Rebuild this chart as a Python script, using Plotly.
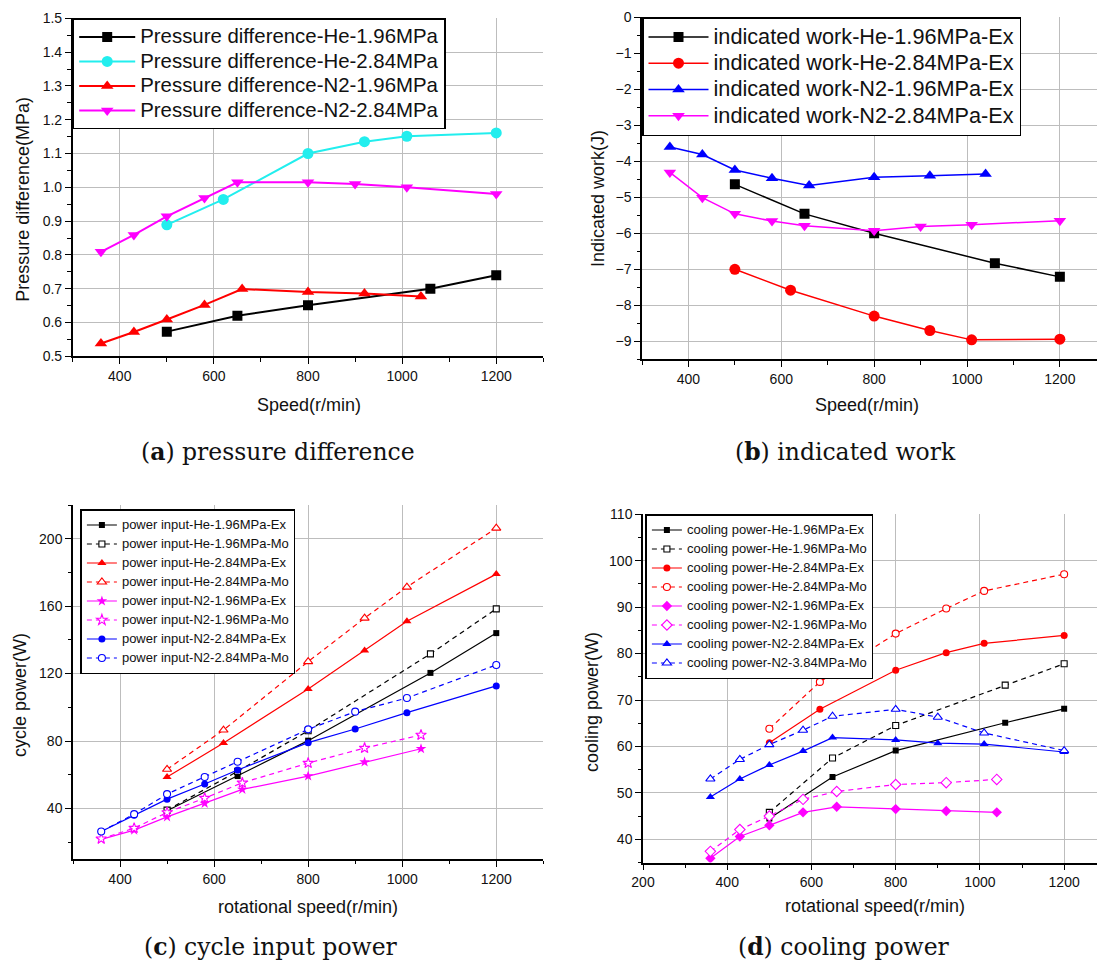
import plotly.graph_objects as go

W, H = 1097, 964

# ---------------- Panel (a) pressure difference ----------------
a_he196_x = [500, 650, 800, 1060, 1200]
a_he196_y = [0.573, 0.620, 0.651, 0.700, 0.740]
a_he284_x = [500, 620, 800, 920, 1010, 1200]
a_he284_y = [0.889, 0.964, 1.100, 1.135, 1.151, 1.161]
a_n2196_x = [360, 430, 500, 580, 660, 800, 920, 1040]
a_n2196_y = [0.538, 0.572, 0.609, 0.652, 0.699, 0.690, 0.686, 0.677]
a_n2284_x = [360, 430, 500, 580, 650, 800, 900, 1010, 1200]
a_n2284_y = [0.809, 0.859, 0.914, 0.968, 1.015, 1.015, 1.010, 1.000, 0.980]

# ---------------- Panel (b) indicated work ----------------
b_he196_x = [500, 650, 800, 1060, 1200]
b_he196_y = [-4.64, -5.46, -6.00, -6.83, -7.21]
b_he284_x = [500, 620, 800, 920, 1010, 1200]
b_he284_y = [-7.00, -7.58, -8.30, -8.70, -8.96, -8.94]
b_n2196_x = [360, 430, 500, 580, 660, 800, 920, 1040]
b_n2196_y = [-3.60, -3.81, -4.24, -4.47, -4.67, -4.44, -4.40, -4.35]
b_n2284_x = [360, 430, 500, 580, 650, 800, 900, 1010, 1200]
b_n2284_y = [-4.31, -5.01, -5.46, -5.66, -5.79, -5.93, -5.81, -5.76, -5.65]

# ---------------- Panel (c) cycle input power ----------------
c_x_he196 = [500, 650, 800, 1060, 1200]
c_he196_ex = [38.6, 59.2, 80.2, 120.4, 144.0]
c_he196_mo = [39.0, 62.0, 86.1, 131.7, 158.4]
c_x_he284 = [500, 620, 800, 920, 1010, 1200]
c_he284_ex = [58.6, 78.8, 110.9, 133.7, 151.1, 179.0]
c_he284_mo = [63.2, 86.5, 127.1, 152.9, 171.3, 206.3]
c_x_n2196 = [360, 430, 500, 580, 660, 800, 920, 1040]
c_n2196_ex = [21.6, 27.1, 35.0, 43.0, 51.3, 59.2, 67.5, 75.4]
c_n2196_mo = [22.0, 28.3, 37.6, 46.1, 55.2, 66.9, 75.8, 83.6]
c_x_n2284 = [360, 430, 500, 580, 650, 800, 900, 1010, 1200]
c_n2284_ex = [26.3, 36.0, 45.5, 54.5, 62.8, 79.0, 87.1, 96.8, 112.7]
c_n2284_mo = [26.3, 36.6, 48.5, 58.6, 67.7, 86.9, 97.4, 105.5, 125.1]

# ---------------- Panel (d) cooling power ----------------
d_x_he196 = [500, 650, 800, 1060, 1200]
d_he196_ex = [44.5, 53.4, 59.1, 65.1, 68.1]
d_he196_mo = [45.8, 57.5, 64.5, 73.2, 77.8]
d_x_he284 = [500, 620, 800, 920, 1010, 1200]
d_he284_ex = [60.8, 68.0, 76.4, 80.2, 82.2, 83.9]
d_he284_mo = [63.8, 73.9, 84.3, 89.7, 93.5, 97.1]
d_x_n2196 = [360, 430, 500, 580, 660, 800, 920, 1040]
d_n2196_ex = [35.9, 40.6, 43.0, 45.8, 47.0, 46.5, 46.1, 45.8]
d_n2196_mo = [37.4, 42.1, 45.0, 48.6, 50.3, 51.8, 52.2, 52.9]
d_x_n2284 = [360, 430, 500, 580, 650, 800, 900, 1010, 1200]
d_n2284_ex = [49.1, 53.0, 56.0, 59.0, 61.9, 61.4, 60.7, 60.5, 58.8]
d_n2384_mo = [53.0, 57.2, 60.4, 63.5, 66.5, 68.0, 66.3, 62.9, 59.1]

SANS = "Liberation Sans, Arial, sans-serif"
SERIF = "DejaVu Serif, serif"
BLACK, RED, BLUE, MAG, CYAN = "#000000", "#ff0000", "#0000ff", "#ff00ff", "#22eeee"
DASH = "5px,4px"

fig = go.Figure()


def nm(text, size):
    return f'<span style="font-size:{size}px">{text}</span>'


def add(x, y, name, color, symbol, size, lw, xa, ya, legend, fsize,
        dash="solid", open_=False):
    marker = dict(symbol=symbol, size=size, color=color,
                  line=dict(width=0, color=color))
    if open_:
        marker = dict(symbol=symbol, size=size, color="white",
                      line=dict(width=1.1, color=color))
    fig.add_trace(go.Scatter(
        x=x, y=y, name=nm(name, fsize), mode="lines+markers",
        line=dict(color=color, width=lw, dash=dash), marker=marker,
        xaxis=xa, yaxis=ya, legend=legend, hoverinfo="skip"))


# (a)
fa = 20.4
add(a_he196_x, a_he196_y, "Pressure difference-He-1.96MPa", BLACK, "square", 10, 2, "x", "y", "legend", fa)
add(a_he284_x, a_he284_y, "Pressure difference-He-2.84MPa", CYAN, "circle", 11, 2, "x", "y", "legend", fa)
add(a_n2196_x, a_n2196_y, "Pressure difference-N2-1.96MPa", RED, "triangle-up", 11, 2, "x", "y", "legend", fa)
add(a_n2284_x, a_n2284_y, "Pressure difference-N2-2.84MPa", MAG, "triangle-down", 11, 2, "x", "y", "legend", fa)

# (b)
fb = 21.7
add(b_he196_x, b_he196_y, "indicated work-He-1.96MPa-Ex", BLACK, "square", 10, 1.5, "x2", "y2", "legend2", fb)
add(b_he284_x, b_he284_y, "indicated work-He-2.84MPa-Ex", RED, "circle", 11, 1.5, "x2", "y2", "legend2", fb)
add(b_n2196_x, b_n2196_y, "indicated work-N2-1.96MPa-Ex", BLUE, "triangle-up", 11, 1.5, "x2", "y2", "legend2", fb)
add(b_n2284_x, b_n2284_y, "indicated work-N2-2.84MPa-Ex", MAG, "triangle-down", 11, 1.5, "x2", "y2", "legend2", fb)

# (c)
fc = 13
add(c_x_he196, c_he196_ex, "power input-He-1.96MPa-Ex", BLACK, "square", 6, 1.2, "x3", "y3", "legend3", fc)
add(c_x_he196, c_he196_mo, "power input-He-1.96MPa-Mo", BLACK, "square", 6, 1.2, "x3", "y3", "legend3", fc, DASH, True)
add(c_x_he284, c_he284_ex, "power input-He-2.84MPa-Ex", RED, "triangle-up", 8, 1.2, "x3", "y3", "legend3", fc)
add(c_x_he284, c_he284_mo, "power input-He-2.84MPa-Mo", RED, "triangle-up", 8, 1.2, "x3", "y3", "legend3", fc, DASH, True)
add(c_x_n2196, c_n2196_ex, "power input-N2-1.96MPa-Ex", MAG, "star", 8, 1.2, "x3", "y3", "legend3", fc)
add(c_x_n2196, c_n2196_mo, "power input-N2-1.96MPa-Mo", MAG, "star", 8, 1.2, "x3", "y3", "legend3", fc, DASH, True)
add(c_x_n2284, c_n2284_ex, "power input-N2-2.84MPa-Ex", BLUE, "circle", 7, 1.2, "x3", "y3", "legend3", fc)
add(c_x_n2284, c_n2284_mo, "power input-N2-2.84MPa-Mo", BLUE, "circle", 7, 1.2, "x3", "y3", "legend3", fc, DASH, True)

# (d)
fd = 13
add(d_x_he196, d_he196_ex, "cooling power-He-1.96MPa-Ex", BLACK, "square", 6, 1.2, "x4", "y4", "legend4", fd)
add(d_x_he196, d_he196_mo, "cooling power-He-1.96MPa-Mo", BLACK, "square", 6, 1.2, "x4", "y4", "legend4", fd, DASH, True)
add(d_x_he284, d_he284_ex, "cooling power-He-2.84MPa-Ex", RED, "circle", 7, 1.2, "x4", "y4", "legend4", fd)
add(d_x_he284, d_he284_mo, "cooling power-He-2.84MPa-Mo", RED, "circle", 7, 1.2, "x4", "y4", "legend4", fd, DASH, True)
add(d_x_n2196, d_n2196_ex, "cooling power-N2-1.96MPa-Ex", MAG, "diamond", 8, 1.2, "x4", "y4", "legend4", fd)
add(d_x_n2196, d_n2196_mo, "cooling power-N2-1.96MPa-Mo", MAG, "diamond", 8, 1.2, "x4", "y4", "legend4", fd, DASH, True)
add(d_x_n2284, d_n2284_ex, "cooling power-N2-2.84MPa-Ex", BLUE, "triangle-up", 8, 1.2, "x4", "y4", "legend4", fd)
add(d_x_n2284, d_n2384_mo, "cooling power-N2-3.84MPa-Mo", BLUE, "triangle-up", 8, 1.2, "x4", "y4", "legend4", fd, DASH, True)


def px_x(p):
    return p / W


def px_y(p):
    return 1 - p / H


def axis(rng, x0, x1, dtick, minor, tick0=0, fmt=None):
    d = dict(
        range=rng, autorange=False, showline=True, linecolor="black", linewidth=1.5,
        ticks="outside", ticklen=6, tickwidth=1.3, tickcolor="black",
        dtick=dtick, tick0=tick0, showgrid=True, gridcolor="#bdbdbd", gridwidth=1.4,
        zeroline=False, tickfont=dict(family=SANS, size=14, color="#111111"),
        minor=dict(dtick=minor, tick0=tick0, ticks="outside", ticklen=3.5,
                   tickwidth=1.2, tickcolor="black", showgrid=False),
        domain=[x0, x1], fixedrange=True, layer="below traces")
    if fmt:
        d["tickformat"] = fmt
    return d


layout = dict(
    width=W, height=H, margin=dict(l=0, r=0, t=0, b=0),
    paper_bgcolor="white", plot_bgcolor="white", template="none",
    showlegend=True,
    xaxis=axis([300, 1300], px_x(72.7), px_x(543.3), 200, 100, 0),
    yaxis=axis([0.5, 1.5], px_y(356.3), px_y(18.3), 0.1, 0.05, 0.5, ".1f"),
    xaxis2=axis([300, 1280], px_x(642), 1.0, 200, 100, 0),
    yaxis2=axis([-9.5, 0], px_y(359.3), px_y(17.3), 1, 0.5, 0),
    xaxis3=axis([300, 1300], px_x(73), px_x(543.3), 200, 100, 0),
    yaxis3=axis([10, 220], px_y(859), px_y(505), 40, 20, 0),
    xaxis4=axis([200, 1278], px_x(643), 1.0, 200, 100, 0),
    yaxis4=axis([35, 110], px_y(862.5), px_y(514.3), 10, 5, 0),
)
for i in ["", "2", "3", "4"]:
    layout["yaxis" + i]["anchor"] = "x" + i
    layout["xaxis" + i]["anchor"] = "y" + i


def leg(xp, yp, fsize, itemwidth):
    return dict(x=px_x(xp), y=px_y(yp), xanchor="left", yanchor="top",
                bgcolor="white", bordercolor="black", borderwidth=1.5,
                font=dict(family=SANS, size=fsize, color="#111111"),
                itemwidth=itemwidth, tracegroupgap=0, traceorder="normal",
                itemclick=False, itemdoubleclick=False)


layout["legend"] = leg(72.7, 18.3, 16.5, 56)
layout["legend2"] = leg(642, 17.3, 17.9, 60)
layout["legend3"] = leg(80.4, 509, 10, 30)
layout["legend4"] = leg(645.4, 514, 10, 30)

fig.update_layout(**layout)

ann = []


def txt(text, xp, yp, size, family=SANS, angle=0):
    ann.append(dict(text=text, x=px_x(xp), y=px_y(yp), xref="paper", yref="paper",
                    xanchor="center", yanchor="middle", showarrow=False,
                    textangle=angle, font=dict(family=family, size=size, color="#111111")))


# axis titles
txt("Pressure difference(MPa)", 22.8, 199, 18, angle=-90)
txt("Speed(r/min)", 308.5, 405, 18)
txt("Indicated work(J)", 598, 199, 18, angle=-90)
txt("Speed(r/min)", 867, 405, 18)
txt("cycle power(W)", 20, 695, 18, angle=-90)
txt("rotational speed(r/min)", 308, 906.7, 18)
txt("cooling power(W)", 592, 702, 18, angle=-90)
txt("rotational speed(r/min)", 875, 906, 18)

# captions
txt("(<b>a</b>) pressure difference", 278, 451.7, 23.5, SERIF)
txt("(<b>b</b>) indicated work", 845.5, 451.7, 23.5, SERIF)
txt("(<b>c</b>) cycle input power", 271, 946.7, 23.5, SERIF)
txt("(<b>d</b>) cooling power", 844, 946.7, 23.5, SERIF)

fig.update_layout(annotations=ann)

fig.write_html("out.html")
